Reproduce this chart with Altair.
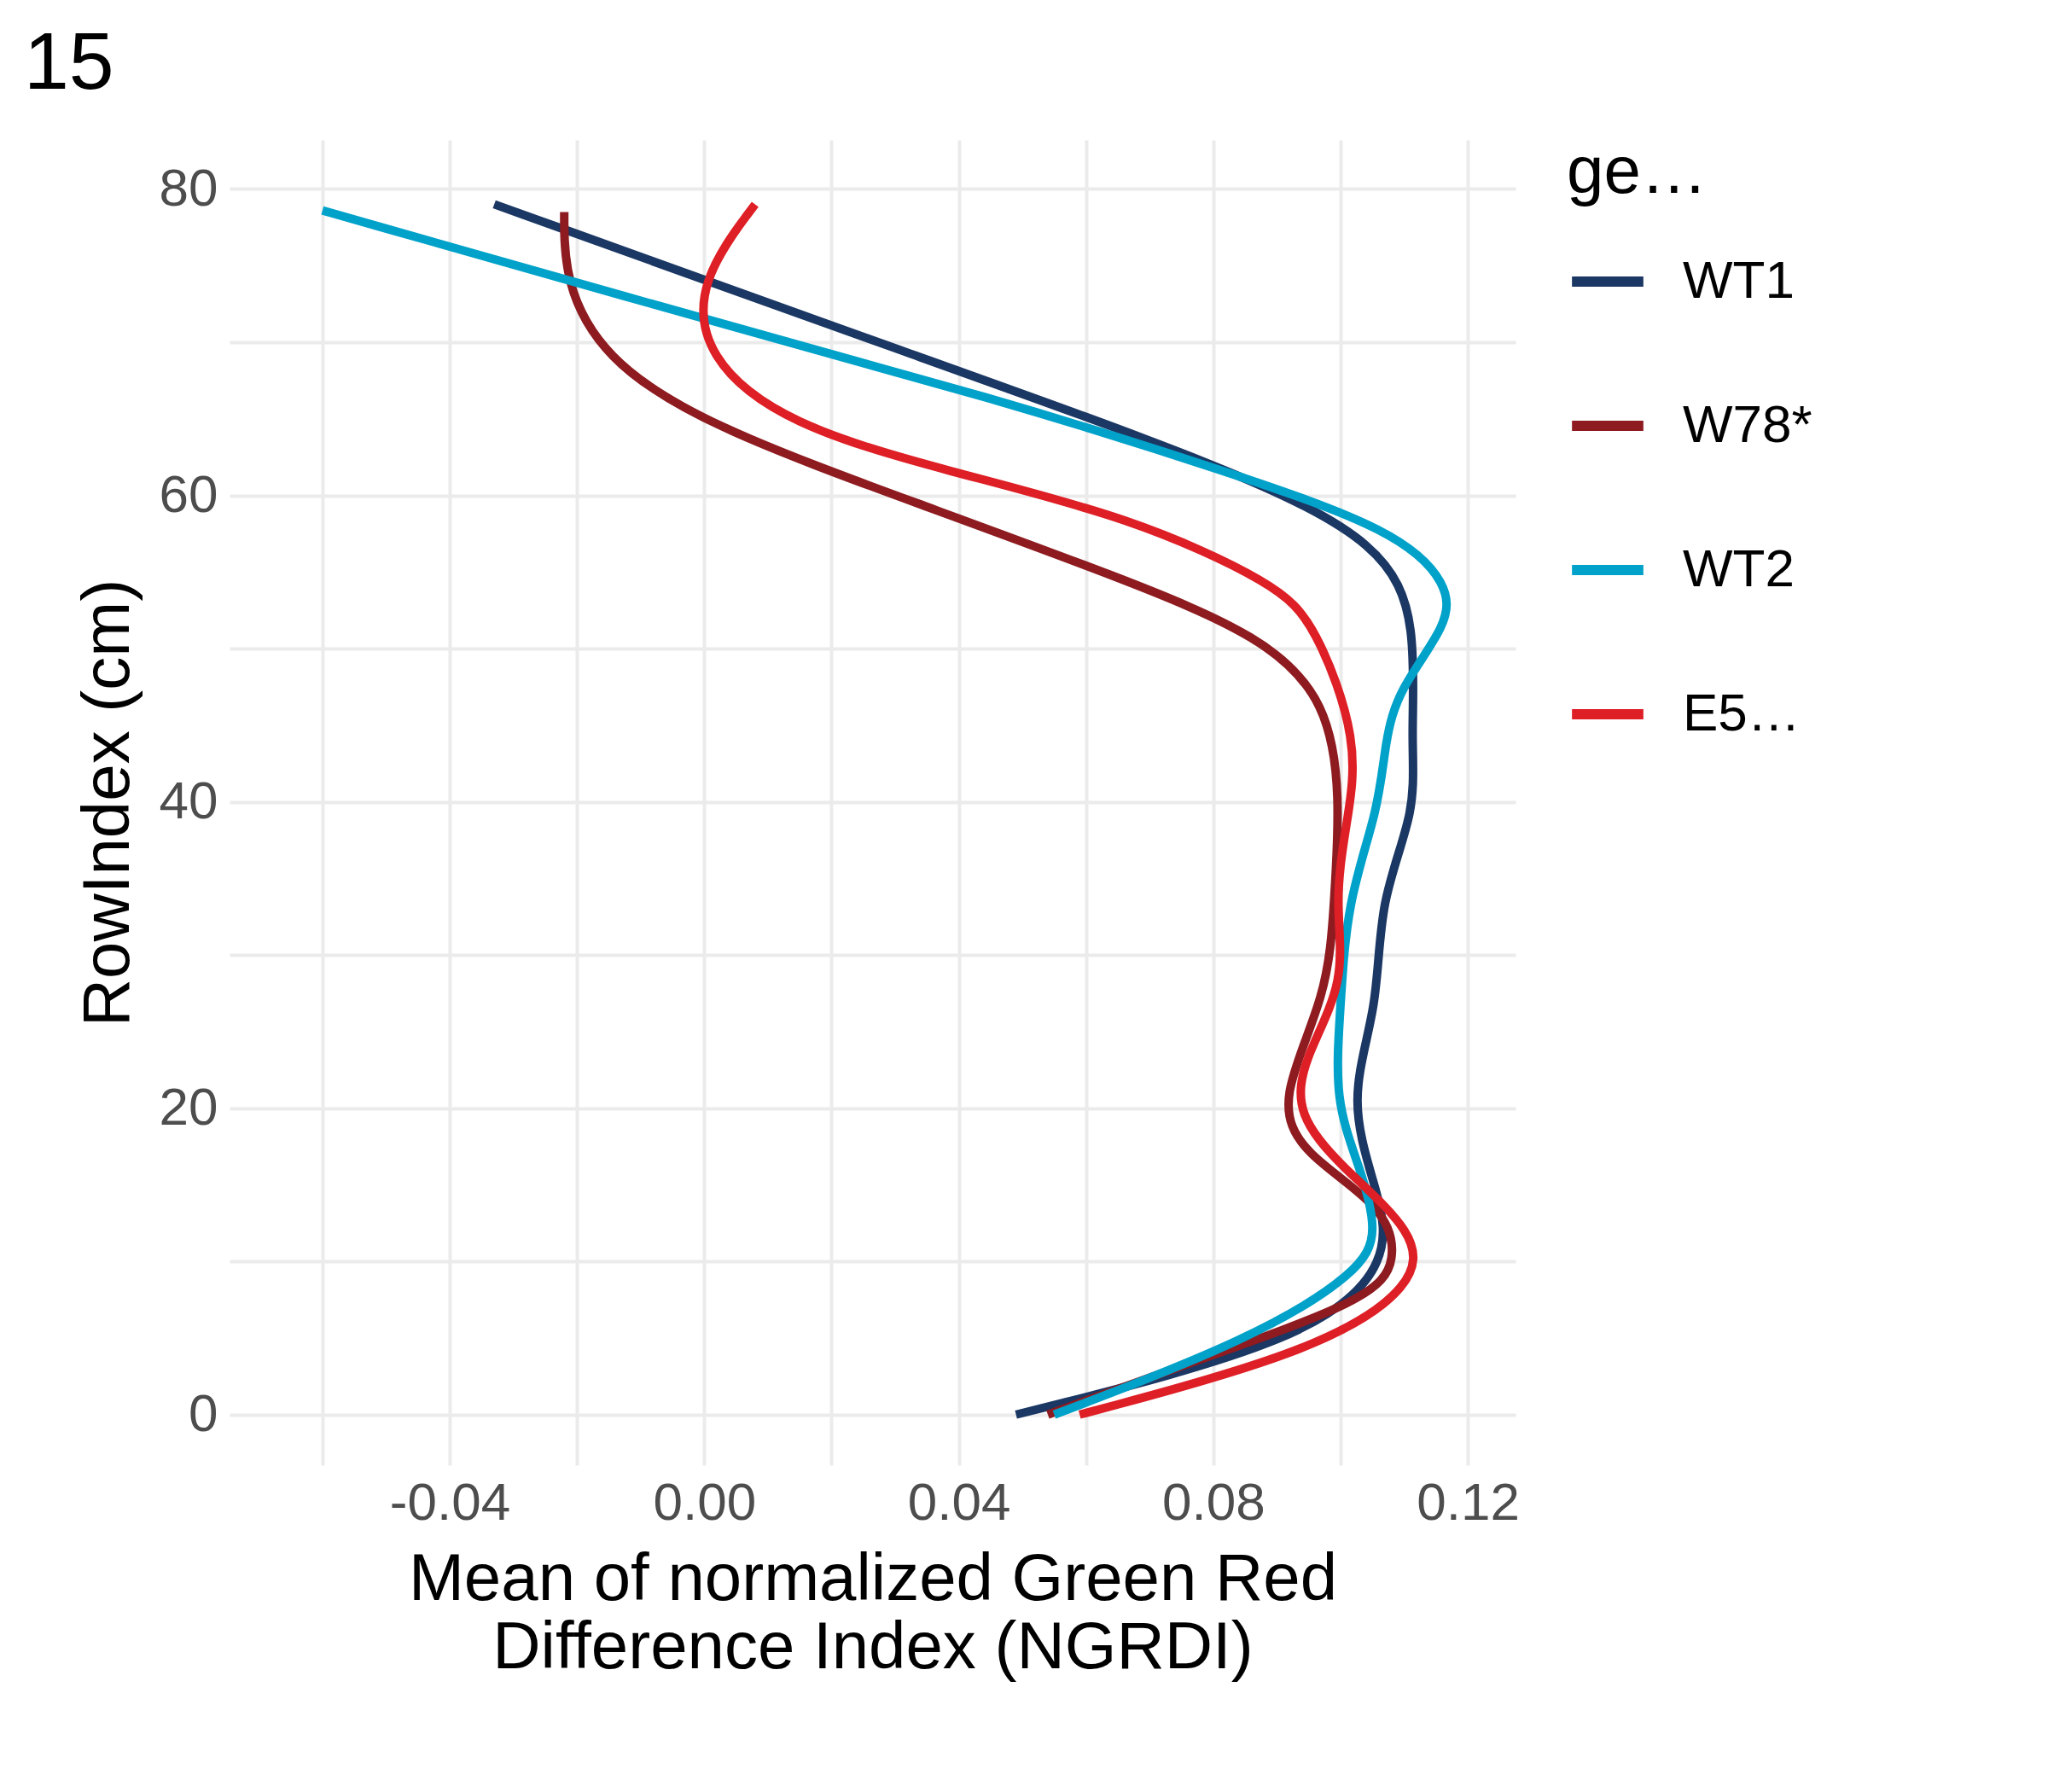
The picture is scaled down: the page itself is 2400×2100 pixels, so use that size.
import altair as alt
import pandas as pd

genotypes = ["WT1", "W78*", "WT2", "E568K"]
colors = ["#1B3763", "#8E1B20", "#00A2C9", "#DE1F26"]

wt1_x = [-0.033, 0.034, 0.084, 0.107, 0.112, 0.111, 0.112, 0.106, 0.106, 0.101, 0.106, 0.108, 0.096, 0.049]
wt1_y = [79, 69, 61.6, 56.8, 51.6, 43.9, 39.5, 33.5, 26.6, 20.5, 14.4, 10.1, 4.9, 0]
w78_x = [-0.022, -0.022, -0.016, 0.0, 0.034, 0.065, 0.088, 0.098, 0.100, 0.099, 0.098, 0.090, 0.094, 0.107, 0.109, 0.105, 0.075, 0.054]
w78_y = [78.5, 74, 69, 64.6, 59.4, 54.7, 50.8, 46.5, 40.4, 33.5, 27.4, 20.5, 17, 13.6, 10.1, 7.5, 3.2, 0]
wt2_x = [-0.060, 0.0, 0.046, 0.082, 0.109, 0.117, 0.117, 0.109, 0.107, 0.106, 0.101, 0.100, 0.099, 0.103, 0.106, 0.103, 0.086, 0.055]
wt2_y = [78.6, 71.5, 66.3, 61.6, 57.7, 54.2, 51.6, 47.3, 43.9, 39.5, 33.5, 26.6, 20.5, 16.2, 11.9, 9.3, 4.9, 0]
e5_x = [0.008, -0.001, 0.0, 0.013, 0.038, 0.067, 0.090, 0.096, 0.103, 0.101, 0.099, 0.101, 0.094, 0.093, 0.100, 0.112, 0.112, 0.096, 0.059]
e5_y = [79, 74, 69, 64.6, 61.6, 58.6, 54.2, 51.6, 43.9, 38.7, 33.5, 28.3, 23.1, 19.6, 16.2, 11.9, 8.4, 4.1, 0]

rows = []
for g, xs, ys in [("WT1", wt1_x, wt1_y), ("W78*", w78_x, w78_y), ("WT2", wt2_x, wt2_y), ("E568K", e5_x, e5_y)]:
    for a, b in zip(xs, ys):
        rows.append({"genotype": g, "ngrdi": a, "row": b})
df = pd.DataFrame(rows)

xvals = [round(-0.06 + 0.02 * i, 2) for i in range(10)]
yvals = list(range(0, 81, 10))

chart = alt.Chart(df).mark_line(strokeWidth=10, interpolate="basis").encode(
    x=alt.X("ngrdi:Q", scale=alt.Scale(domain=[-0.0746, 0.1275], nice=False, zero=False),
            axis=alt.Axis(values=xvals, format=".2f",
                          labelExpr="abs(round(datum.value*100)) % 4 == 0 ? replace(datum.label, '−', '-') : ''",
                          title=["Mean of normalized Green Red", "Difference Index (NGRDI)"])),
    y=alt.Y("row:Q", scale=alt.Scale(domain=[-3.3, 83.2], nice=False, zero=False),
            axis=alt.Axis(values=yvals, labelExpr="datum.value % 20 == 0 ? datum.label : ''",
                          title="RowIndex (cm)")),
    color=alt.Color("genotype:N", scale=alt.Scale(domain=genotypes, range=colors),
                    legend=alt.Legend(title="genotype", symbolType="stroke", symbolStrokeWidth=12,
                                      symbolSize=7000, rowPadding=90, offset=60)),
    order=alt.Order("row:Q", sort="descending"),
).properties(
    width=1507, height=1553,
    padding={"left": 20, "top": 20, "right": 20, "bottom": 20},
    title=alt.Title("15", anchor="start", fontSize=95, font="Liberation Sans", fontWeight="normal", offset=40, dx=-60),
).configure_view(stroke=None).configure_axis(
    grid=True, gridColor="#EBEBEB", gridWidth=4, domain=False, ticks=False,
    labelFontSize=62, labelColor="#4D4D4D", labelFont="Liberation Sans", labelPadding=14,
    titleFontSize=78, titleFont="Liberation Sans", titleFontWeight="normal", titleColor="#000", titlePadding=20,
).configure_legend(
    titleFontSize=78, labelFontSize=62, titleFont="Liberation Sans", labelFont="Liberation Sans",
    titleFontWeight="normal", labelColor="#000", titlePadding=40, orient="right", labelOffset=40,
)

chart.save("out.html", embed_options={"renderer": "svg", "actions": False})
